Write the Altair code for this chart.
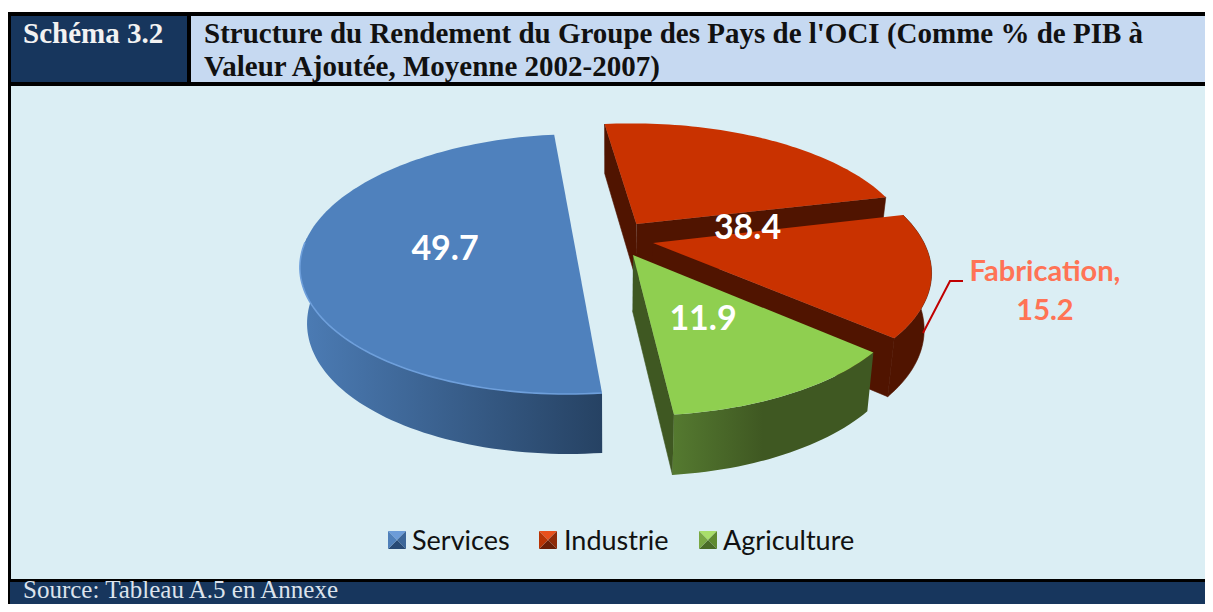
import math
import altair as alt
import pandas as pd

# ---- values ----
categories = ["Services", "Industrie", "Agriculture"]
shares = [49.7, 38.4, 11.9]
fabrication_label = "Fabrication,"
fabrication_value = 15.2
colors_top = ["#4F81BD", "#C93200", "#8FCF50"]

W, H = 1197, 596
NAVY, PALE, BG = "#17365D", "#C6D9F1", "#DBEEF4"
DARK_RED, DARK_GREEN = "#501400", "#3F5822"
SERIF, SANS = "Liberation Serif", "Lato"

# ---- pie projected with perspective ----
CX, CY, A, B, P = 610.0, 238.0, 273.0, 124.8, 0.2
START = 97.0


def project(X, Z, low=False):
    w = 1 + P * Z
    x = CX + A * X / w
    y = CY - B * Z / w
    if low:
        x = CX + (x - CX) * 0.977
        y += 55 * (1 - 0.09 * Z)
    return x, y


def ring(v, r, t0, t1, low=False):
    n = max(2, int(abs(t1 - t0) / 1.5) + 1)
    out = []
    for k in range(n + 1):
        t = math.radians(t0 + (t1 - t0) * k / n)
        out.append(project(v[0] + r[0] * math.cos(t), v[1] + r[1] * math.sin(t), low))
    return out


def frame(points, series=None):
    d = pd.DataFrame(points, columns=["x", "y"])
    d["i"] = range(len(d))
    if series:
        d["series"] = series
    return d


x_enc = alt.X("x:Q", axis=None, scale=alt.Scale(domain=[8, 8 + W], nice=False, zero=False))
y_enc = alt.Y("y:Q", axis=None, scale=alt.Scale(domain=[8 + H, 8], nice=False, zero=False))
color_enc = alt.Color(
    "series:N",
    scale=alt.Scale(domain=categories, range=colors_top),
    legend=alt.Legend(
        title=None, orient="none", legendX=376, legendY=520, direction="horizontal", columns=3,
        symbolType="square", symbolSize=324, symbolStrokeWidth=0, symbolOpacity=0, labelFont=SANS, labelFontSize=27,
        labelColor="#111111", columnPadding=26, labelOffset=1,
    ),
)


def side(points, fill):
    kw = {"stroke": fill, "strokeWidth": 0.6} if isinstance(fill, str) else {"strokeWidth": 0}
    return alt.Chart(frame(points)).mark_line(filled=True, fill=fill, **kw).encode(
        x=x_enc, y=y_enc, order="i:Q"
    )


def top(points, series):
    return alt.Chart(frame(points, series)).mark_line(filled=True, strokeWidth=0).encode(
        x=x_enc, y=y_enc, order="i:Q", color=color_enc
    )


def grad(c0, c1, mid=None):
    stops = [alt.GradientStop(offset=0, color=c0)]
    if mid is not None:
        stops.append(alt.GradientStop(offset=mid, color=c1))
    stops.append(alt.GradientStop(offset=1, color=c1))
    return alt.Gradient(gradient="linear", x1=0, x2=1, y1=0, y2=0, stops=stops)


def span(v):
    return v / 100 * 360


# slice angles come from the shares
other_industry = shares[1] - fabrication_value
t_blue0 = START
t_blue1 = t_blue0 + span(shares[0])
t_r1_0 = START
t_r1_1 = t_r1_0 - span(other_industry)
t_r2_1 = t_r1_1 - span(fabrication_value)
t_g1 = t_r2_1 - span(shares[2])

V_BLUE, V_R1, V_R2, V_G = (-0.125, 0.0), (0.0988, 0.1148), (0.1563, -0.0397), (0.082, -0.1326)
R_B, R_R1, R_R2, R_G = (0.985, 1.0), (1.01, 1.01), (0.985, 0.99), (0.975, 0.975)


def wedge(v, r, t0, t1):
    return [project(*v)] + ring(v, r, t0, t1)


def band(v, r, t0, t1):
    return ring(v, r, t0, t1) + ring(v, r, t1, t0, True)


def cut(v, r, t):
    tip = (v[0] + r[0] * math.cos(math.radians(t)), v[1] + r[1] * math.sin(math.radians(t)))
    return [project(*v), project(*tip), project(*tip, True), project(*v, True)]


layers = []

# panels
def rect(x0, y0, x1, y1, color):
    return alt.Chart(alt.Data(values=[{}])).mark_rect(color=color, strokeWidth=0).encode(
        x=alt.value(x0 - 8), x2=alt.value(x1 - 8), y=alt.value(y0 - 8), y2=alt.value(y1 - 8)
    )


layers += [
    rect(8, 12, 1205, 604, "#000000"),
    rect(11, 16, 187, 82, NAVY),
    rect(191, 16, 1205, 82, PALE),
    rect(11, 86, 1205, 579, BG),
    rect(10, 582, 1205, 604, NAVY),
]

# services
layers.append(side(band(V_BLUE, R_B, 180, t_blue1), grad("#4C7CB5", "#264263")))
layers.append(top(ring(V_BLUE, R_B, t_blue0, t_blue1), categories[0]))
rim = frame(ring(V_BLUE, R_B, 182, t_blue1))
layers.append(alt.Chart(rim).mark_line(color="#6E9FDB", strokeWidth=1.6).encode(x=x_enc, y=y_enc, order="i:Q"))

# industry, rest
layers.append(side(cut(V_R1, R_R1, t_r1_0), DARK_RED))
layers.append(side(cut(V_R1, R_R1, t_r1_1), DARK_RED))
layers.append(top(wedge(V_R1, R_R1, t_r1_0, t_r1_1), categories[1]))

# industry, manufacturing
layers.append(side(band(V_R2, R_R2, t_r1_1, t_r2_1), DARK_RED))
layers.append(side(cut(V_R2, R_R2, t_r2_1), DARK_RED))
layers.append(top(wedge(V_R2, R_R2, t_r1_1, t_r2_1), categories[1]))

# agriculture
layers.append(side(cut(V_G, R_G, t_g1), DARK_GREEN))
layers.append(side(band(V_G, R_G, t_r2_1, t_g1), grad("#557A30", DARK_GREEN, 0.45)))
layers.append(top(wedge(V_G, R_G, t_r2_1, t_g1), categories[2]))


def text(s, x, y, size, color, font=SANS, weight="bold", align="center", baseline="alphabetic"):
    return alt.Chart(alt.Data(values=[{}])).mark_text(
        text=s, font=font, fontSize=size, fontWeight=weight, color=color, align=align, baseline=baseline
    ).encode(x=alt.value(x - 8), y=alt.value(y - 8))


# leader
leader = frame([(963, 281), (950, 281), (923, 333)])
layers.append(alt.Chart(leader).mark_line(color="#C00000", strokeWidth=2).encode(x=x_enc, y=y_enc, order="i:Q"))

# bevel shading of the legend squares
bevel_rows = []
for sx, shades in zip(
    [388, 539, 699],
    [
        ["#6C9CD8", "#3C6698", "#274A75", "#4F80BA"],
        ["#E8501C", "#8E2A08", "#6A1E06", "#B93404"],
        ["#A9DE6A", "#5F8A30", "#4A6C27", "#79A843"],
    ],
):
    sy, s = 531, 18
    c = (sx + s / 2, sy + s / 2)
    corners = [(sx, sy), (sx + s, sy), (sx + s, sy + s), (sx, sy + s)]
    for n, shade in enumerate(shades):
        for i, p in enumerate([corners[n], corners[(n + 1) % 4], c]):
            bevel_rows.append({"x": p[0], "y": p[1], "i": i, "key": f"{sx}-{n}", "shade": shade})
layers.append(
    alt.Chart(pd.DataFrame(bevel_rows)).mark_line(filled=True, strokeWidth=0).encode(
        x=x_enc, y=y_enc, order="i:Q", detail="key:N", color=alt.Color("shade:N", scale=None)
    )
)

layers += [
    text(str(shares[0]), 445, 260, 34, "white"),
    text(str(shares[1]), 747.5, 238.5, 34, "white"),
    text(str(shares[2]), 703, 330, 34, "white"),
    text(fabrication_label, 1045, 281, 29, "#FF7355"),
    text(str(fabrication_value), 1045, 320, 29, "#FF7355"),
    text("Schéma 3.2", 23, 42.7, 29, "#F2F2F2", SERIF, "bold", "left"),
    text("Structure du Rendement du Groupe des Pays de l'OCI (Comme % de PIB à", 204, 42.7, 29, "#111111", SERIF, "bold", "left"),
    text("Valeur Ajoutée, Moyenne 2002-2007)", 204, 76, 29, "#111111", SERIF, "bold", "left"),
    text("Source: Tableau A.5 en Annexe", 23, 598, 25, "#DCE3EC", SERIF, "normal", "left"),
]

chart = alt.layer(*layers).properties(
    width=W, height=H, padding=0, background="white", autosize=alt.AutoSizeParams(type="none")
).configure_view(strokeWidth=0)
chart.save("out.html", embed_options={"renderer": "svg", "actions": False})
